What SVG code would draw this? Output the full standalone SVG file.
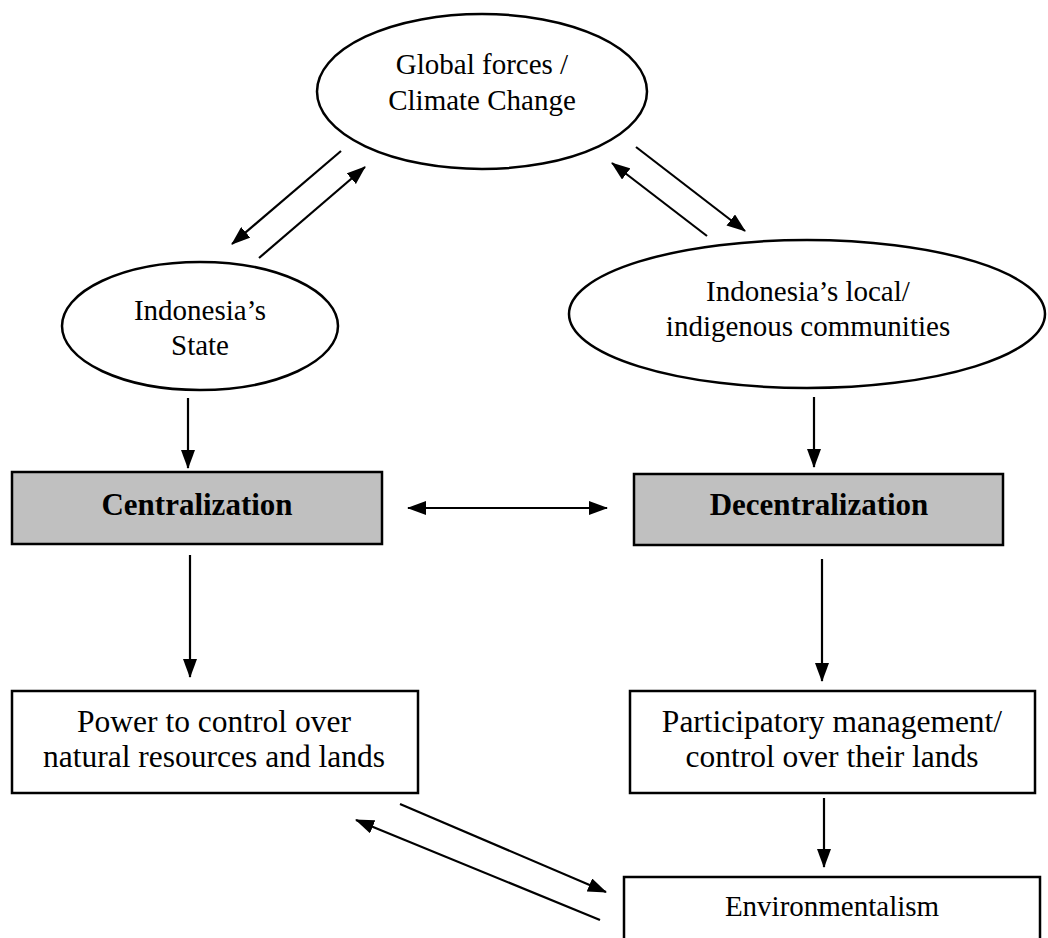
<svg xmlns="http://www.w3.org/2000/svg" width="1048" height="938" viewBox="0 0 1048 938">
<style>
.shape{fill:#ffffff;stroke:#000000;stroke-width:2.5}
.gray{fill:#c0c0c0;stroke:#000000;stroke-width:2.5}
.t{font-family:"Liberation Serif","Times New Roman",serif;font-size:29px;fill:#000000;text-anchor:middle}
.tb{font-family:"Liberation Serif","Times New Roman",serif;font-size:31px;font-weight:bold;fill:#000000;text-anchor:middle}
.tr{font-family:"Liberation Serif","Times New Roman",serif;font-size:31.5px;fill:#000000;text-anchor:middle}
.c{stroke:#000000;stroke-width:2.2;fill:none;marker-end:url(#ah)}
</style>
<defs>
<marker id="ah" markerUnits="userSpaceOnUse" markerWidth="19" markerHeight="14" viewBox="0 0 19 14" refX="18" refY="7" orient="auto-start-reverse">
<path d="M0,0 L19,7 L0,14 z" fill="#000000"/>
</marker>
</defs>
<rect width="1048" height="938" fill="#ffffff"/>
<g id="global">
<ellipse class="shape" cx="482" cy="91.5" rx="165" ry="77.5"/>
<text class="t" x="482" y="74">Global forces /</text>
<text class="t" x="482" y="110">Climate Change</text>
</g>
<g id="state">
<ellipse class="shape" cx="200" cy="326" rx="138" ry="64"/>
<text class="t" x="200" y="320">Indonesia’s</text>
<text class="t" x="200" y="355">State</text>
</g>
<g id="communities">
<ellipse class="shape" cx="807" cy="314" rx="238" ry="74"/>
<text class="t" x="808" y="301">Indonesia’s local/</text>
<text class="t" x="808" y="336">indigenous communities</text>
</g>
<g id="centralization">
<rect class="gray" x="12" y="472" width="370" height="72"/>
<text class="tb" x="197" y="515">Centralization</text>
</g>
<g id="decentralization">
<rect class="gray" x="634" y="474" width="369" height="71"/>
<text class="tb" x="819" y="515">Decentralization</text>
</g>
<g id="power">
<rect class="shape" x="12" y="691" width="406" height="102"/>
<text class="tr" x="214" y="732">Power to control over</text>
<text class="tr" x="214" y="767">natural resources and lands</text>
</g>
<g id="participatory">
<rect class="shape" x="630" y="691" width="405" height="102"/>
<text class="tr" x="832" y="732">Participatory management/</text>
<text class="tr" x="832" y="767">control over their lands</text>
</g>
<g id="environmentalism">
<rect class="shape" x="624" y="877" width="416" height="90"/>
<text class="t" x="832" y="916">Environmentalism</text>
</g>
<g id="connectors">
<line class="c" x1="341" y1="151" x2="232" y2="244"/>
<line class="c" x1="259" y1="258" x2="365" y2="167"/>
<line class="c" x1="636" y1="147" x2="745" y2="231"/>
<line class="c" x1="707" y1="236" x2="612" y2="163"/>
<line class="c" x1="188" y1="398" x2="188" y2="468"/>
<line class="c" x1="814" y1="397" x2="814" y2="467"/>
<line class="c" x1="408" y1="508" x2="607" y2="508" style="marker-start:url(#ah)"/>
<line class="c" x1="190" y1="555" x2="190" y2="677"/>
<line class="c" x1="822" y1="559" x2="822" y2="681"/>
<line class="c" x1="824" y1="798" x2="824" y2="867"/>
<line class="c" x1="400" y1="804" x2="606" y2="892"/>
<line class="c" x1="600" y1="920" x2="356" y2="820"/>
</g>
</svg>
